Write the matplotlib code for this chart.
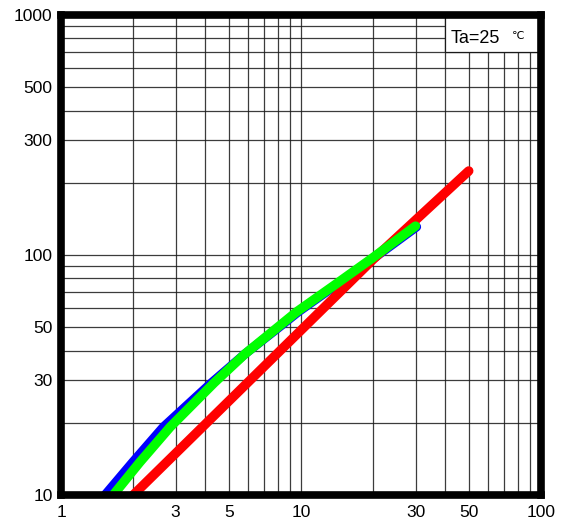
import matplotlib
matplotlib.use("Agg")
import matplotlib.pyplot as plt
from matplotlib.patches import Rectangle
from matplotlib.ticker import NullFormatter, LogLocator

# --- data ---
blue_x = [1.525, 1.99, 2.67, 4.23, 5.84, 8.1, 9.75, 14.2, 20.1, 30.3]
blue_y = [10, 13.7, 19.2, 29.3, 38.7, 50, 58, 75.7, 97, 131]

green_x = [1.65, 2.13, 2.85, 4.34, 5.84, 8.0, 9.6, 14, 19.8, 30]
green_y = [10, 13.7, 19.2, 29.3, 38.7, 50, 58, 75.7, 97, 132]

red_x = [2, 20, 50]
red_y = [10, 96, 224]

x_ticks = [1, 3, 5, 10, 30, 50, 100]
y_ticks = [10, 30, 50, 100, 300, 500, 1000]

plt.rcParams['font.family'] = ['Liberation Sans', 'DejaVu Sans']

fig = plt.figure(figsize=(5.71, 5.22), dpi=100)
ax = fig.add_axes([61 / 571, 1 - 495 / 522, 480 / 571, 480 / 522])

ax.set_xscale('log')
ax.set_yscale('log')
ax.set_xlim(1, 100)
ax.set_ylim(10, 1000)

ax.plot(blue_x, blue_y, color='#0000ff', linewidth=6.6, solid_capstyle='round',
        solid_joinstyle='round', zorder=3)
ax.plot(red_x, red_y, color='#ff0000', linewidth=6.8, solid_capstyle='round',
        solid_joinstyle='round', zorder=4)
ax.plot(green_x, green_y, color='#00ff00', linewidth=6.8, solid_capstyle='round',
        solid_joinstyle='round', zorder=5)

ax.set_xticks(x_ticks)
ax.set_xticklabels([str(v) for v in x_ticks])
ax.set_yticks(y_ticks)
ax.set_yticklabels([str(v) for v in y_ticks])
ax.xaxis.set_minor_locator(LogLocator(base=10, subs=range(2, 10)))
ax.yaxis.set_minor_locator(LogLocator(base=10, subs=range(2, 10)))
ax.xaxis.set_minor_formatter(NullFormatter())
ax.yaxis.set_minor_formatter(NullFormatter())
ax.tick_params(which='both', length=0, labelsize=12.5, colors='black')
ax.tick_params(axis='x', pad=7)
ax.tick_params(axis='y', pad=6)

ax.grid(True, which='both', color='#1a1a1a', linewidth=0.9, alpha=0.85)

# white label box in the upper right corner
ax.add_patch(Rectangle((40, 700), 60, 300, facecolor='white', edgecolor='#1a1a1a',
                       linewidth=0.9, zorder=2))
ax.text(42.2, 800, "Ta=25", fontsize=13, va='center', ha='left', zorder=6)
ax.text(76, 815, "℃", fontsize=8, va='center', ha='left', zorder=6,
        family=['DejaVu Sans'])

for s in ax.spines.values():
    s.set_linewidth(5.5)
    s.set_color('black')
    s.set_capstyle('projecting')
    s.set_zorder(10)

fig.savefig("out.png", dpi=100)
